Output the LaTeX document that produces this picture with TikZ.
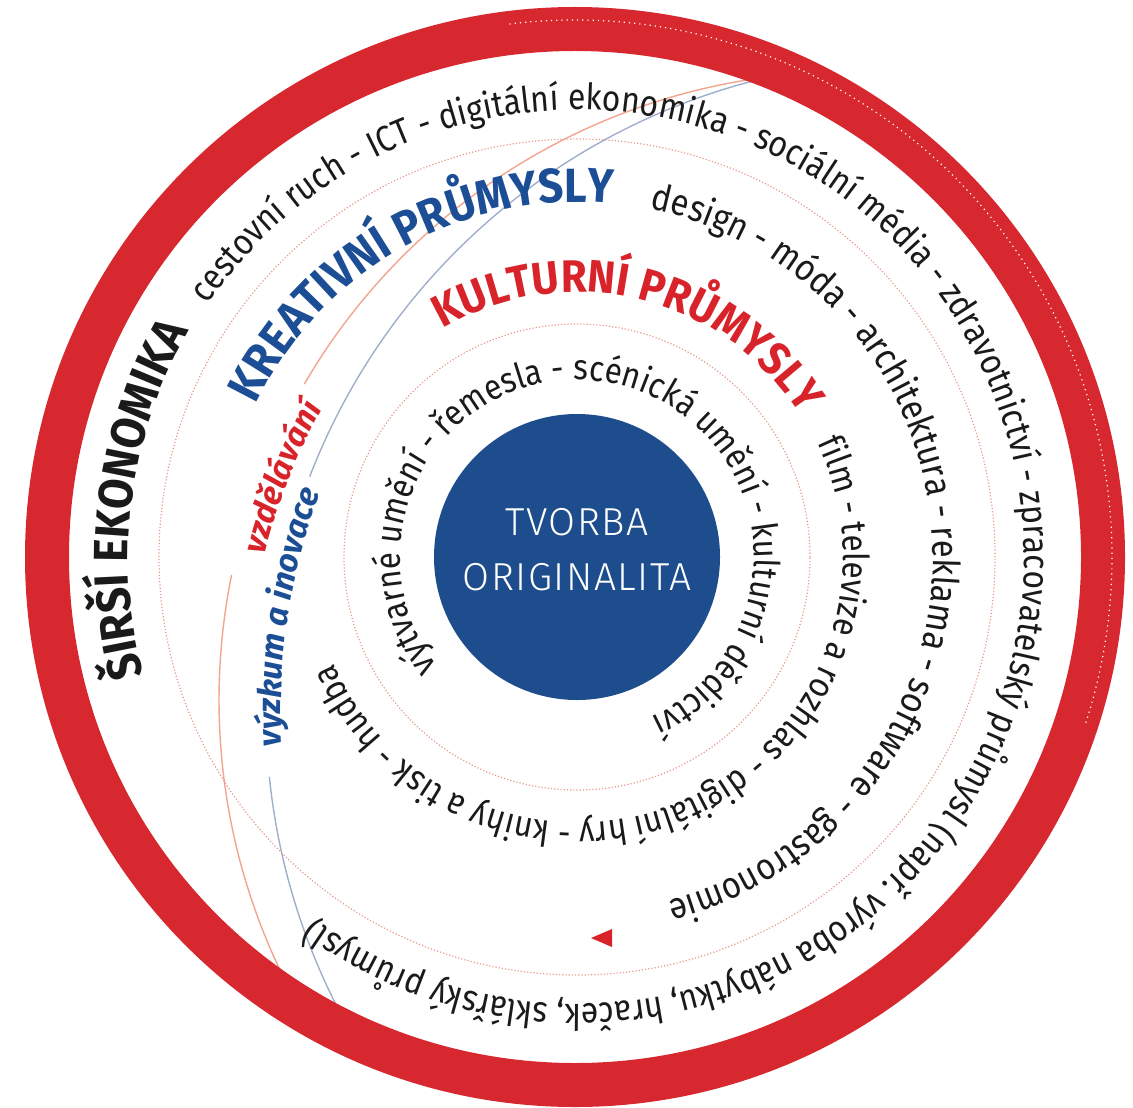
\documentclass[tikz,border=0pt]{standalone}
\usepackage{fontspec}
\usepackage{xcolor}
\usepackage{tikz}
\usetikzlibrary{decorations.text}

\setmainfont{Fira Sans}
\newfontfamily\bandfont{Fira Sans}[FakeStretch=0.88]
\newfontfamily\headfont{Fira Sans}[FakeStretch=0.92]
\newfontfamily\tagfont{Fira Sans}
\newfontfamily\corefont{Fira Sans Light}[LetterSpace=4]

\definecolor{ringred}{HTML}{D7282F}
\definecolor{coreblue}{HTML}{1E4D8D}
\definecolor{kreablue}{HTML}{1C4E96}
\definecolor{kultred}{HTML}{D8232A}
\definecolor{dotred}{HTML}{E59A8A}
\definecolor{arcred}{HTML}{F2A58E}
\definecolor{arcblue}{HTML}{9FAECB}
\definecolor{ink}{HTML}{1A1A1A}

\begin{document}
\begin{tikzpicture}[x=0.5pt,y=0.5pt,
    dots/.style={dotred, densely dotted, line width=0.6pt},
    guide/.style={line width=0.7pt},
    ringtext/.style n args={3}{decorate,
      decoration={text along path, text align=center, text color=#2, text={|#3|#1}}},
    band/.style 2 args={ringtext={#1}{ink}{\bandfont\fontsize{#2}{#2}\selectfont}},
    head/.style n args={3}{ringtext={#1}{#2}{\headfont\bfseries\fontsize{#3}{#3}\selectfont}},
    tag/.style 2 args={ringtext={#1}{#2}{\tagfont\bfseries\itshape\fontsize{16.3}{16.3}\selectfont}}]
  \useasboundingbox (0,0) rectangle (1133,-1107);
  \coordinate (O) at (577,-557);
  \coordinate (ringc) at (575,-557);
  \coordinate (redc) at (847,-700);
  \coordinate (bluec) at (917,-711);

  % guide arcs
  \begin{scope}
    \clip (ringc) circle[radius=528];
    \draw[guide, arcred] (redc) ++(95:628) arc[start angle=95, end angle=149.8, radius=628];
    \draw[guide, arcred] (redc) ++(168.5:628) arc[start angle=168.5, end angle=212, radius=628];
    \draw[guide, arcblue] (bluec) ++(100:651) arc[start angle=100, end angle=158.9, radius=651];
    \draw[guide, arcblue] (bluec) ++(185.8:651) arc[start angle=185.8, end angle=215, radius=651];
  \end{scope}

  % rings
  \draw[ringred, line width=22pt] (ringc) circle[radius=528];
  \draw[white, dotted, line width=0.6pt] (ringc) ++(97:537) arc[start angle=97, end angle=-18, radius=537];
  \draw[dots] (O) circle[radius=418];
  \draw[dots] (O) circle[radius=233];

  \node[circle, fill=coreblue, minimum size=143pt, inner sep=0pt] (core) at (O) {};
  \node[text=white, align=center, font=\corefont\fontsize{19.5}{27.5}\selectfont]
    (corelabel) at ([yshift=3.5pt]core.center) {TVORBA\\ORIGINALITA};

  % outer ring
  \path[head={ŠIRŠÍ EKONOMIKA}{ink}{24}] (O) ++(215:449) arc[start angle=215, end angle=130, radius=449];
  \path[band={cestovní ruch - ICT - digitální ekonomika - sociální média - zdravotnictví - zpracovatelský průmysl (např. výroba nábytku, hraček, sklářský průmysl)}{18.1}]
    (O) ++(159.85:447) arc[start angle=159.85, end angle=-140.15, radius=447];
  % creative ring
  \path[head={KREATIVNÍ PRŮMYSLY}{kreablue}{24}] (O) ++(169.4:355) arc[start angle=169.4, end angle=69.4, radius=355];
  \path[band={design - móda - architektura - reklama - software - gastronomie}{18.6}]
    (O) ++(111.4:356) arc[start angle=111.4, end angle=-108.6, radius=356];
  % cultural ring
  \path[head={KULTURNÍ PRŮMYSLY}{kultred}{22.8}] (O) ++(131.45:265) arc[start angle=131.45, end angle=21.45, radius=265];
  \path[band={film - televize a rozhlas - digitální hry - knihy a tisk - hudba}{17.85}]
    (O) ++(44.4:266) arc[start angle=44.4, end angle=-175.6, radius=266];
  % core ring
  \path[band={výtvarné umění - řemesla - scénická umění - kulturní dědictví}{17.8}]
    (O) ++(226.4:177) arc[start angle=226.4, end angle=-73.6, radius=177];

  % guide labels
  \path[tag={vzdělávání}{kultred}] (redc) ++(172:600) arc[start angle=172, end angle=145, radius=600];
  \path[tag={výzkum a inovace}{kreablue}] (bluec) ++(190:636) arc[start angle=190, end angle=153, radius=636];

  \fill[kultred] (591,-938) -- (612,-929) -- (612,-947) -- cycle;
\end{tikzpicture}
\end{document}
